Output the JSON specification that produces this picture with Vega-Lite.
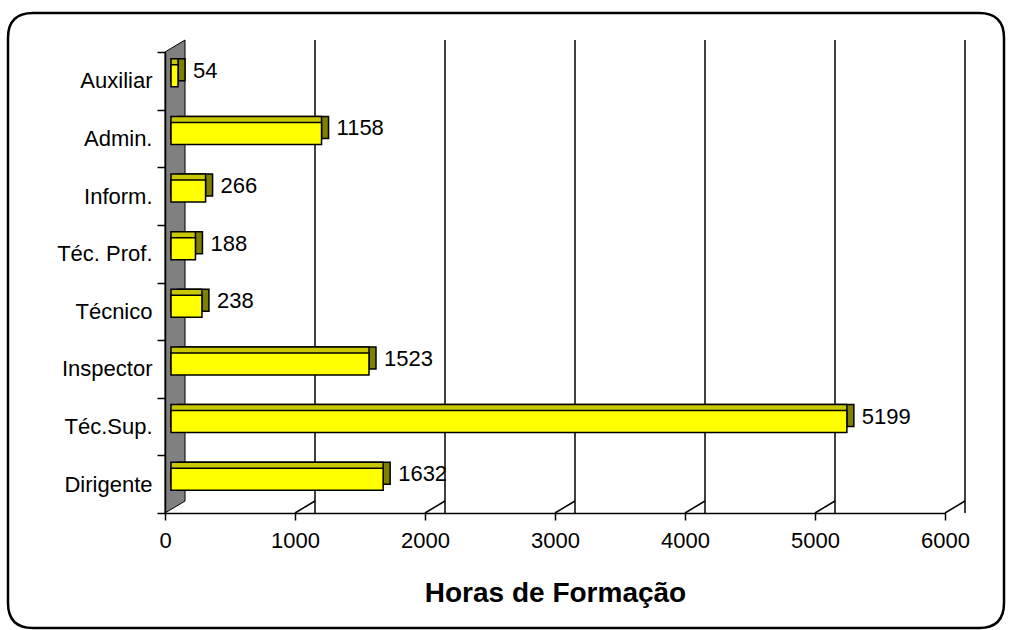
{
  "$schema": "https://vega.github.io/schema/vega-lite/v6.json",
  "width": 780,
  "height": 461,
  "autosize": "none",
  "padding": {"left": 165, "top": 52, "right": 66, "bottom": 117},
  "background": "white",
  "config": {"view": {"stroke": null}, "font": "Liberation Sans"},
  "datasets": {
    "bars": [
      {"cat": "Auxiliar", "horas": 54},
      {"cat": "Admin.", "horas": 1158},
      {"cat": "Inform.", "horas": 266},
      {"cat": "Téc. Prof.", "horas": 188},
      {"cat": "Técnico", "horas": 238},
      {"cat": "Inspector", "horas": 1523},
      {"cat": "Téc.Sup.", "horas": 5199},
      {"cat": "Dirigente", "horas": 1632}
    ],
    "grid": [{"g": 1000}, {"g": 2000}, {"g": 3000}, {"g": 4000}, {"g": 5000}, {"g": 6000}],
    "one": [{"g": 0}]
  },
  "encoding": {
    "y": {
      "field": "cat", "type": "nominal",
      "sort": ["Auxiliar", "Admin.", "Inform.", "Téc. Prof.", "Técnico", "Inspector", "Téc.Sup.", "Dirigente"],
      "scale": {"domain": ["Auxiliar", "Admin.", "Inform.", "Téc. Prof.", "Técnico", "Inspector", "Téc.Sup.", "Dirigente"], "paddingInner": 0, "paddingOuter": 0},
      "axis": {
        "title": null, "domainColor": "black", "domainWidth": 1.5, "tickColor": "black", "tickWidth": 1.5,
        "tickSize": 8, "tickBand": "extent", "labelFontSize": 22, "labelColor": "black", "labelPadding": 5,
        "labelFont": "Liberation Sans", "grid": false, "zindex": 1
      }
    },
    "x": {"field": "horas", "type": "quantitative", "scale": {"domain": [0, 6000]},
      "axis": {"title": "Horas de Formação", "titleFontSize": 28, "titleFont": "Liberation Sans", "titleFontWeight": "bold", "titleColor": "black", "titlePadding": 28,
        "values": [0, 1000, 2000, 3000, 4000, 5000, 6000], "format": "d", "domainColor": "black", "domainWidth": 1.5,
        "tickColor": "black", "tickWidth": 1.5, "tickSize": 7, "labelFontSize": 22, "labelColor": "black", "labelPadding": 10,
        "labelFont": "Liberation Sans", "grid": false, "labelFlush": false, "zindex": 1}}
  },
  "layer": [
    {
      "data": {"name": "one"},
      "mark": {"type": "point", "filled": false, "stroke": "black", "strokeWidth": 2.5, "opacity": 1, "strokeOpacity": 1,
        "shape": "M -0.946 -0.615 L 0.946 -0.615 Q 0.996 -0.615 0.996 -0.565 L 0.996 0.565 Q 0.996 0.615 0.946 0.615 L -0.946 0.615 Q -0.996 0.615 -0.996 0.565 L -0.996 -0.565 Q -0.996 -0.615 -0.946 -0.615 Z",
        "size": 1000000, "xOffset": 341, "yOffset": -48.4},
      "encoding": {
        "x": {"field": "g", "type": "quantitative"},
        "y": {"datum": "Inspector", "type": "nominal"}
      }
    },
    {
      "data": {"name": "one"},
      "mark": {"type": "point", "filled": true, "fill": "#808080", "stroke": "black", "strokeWidth": 1, "opacity": 1, "fillOpacity": 1,
        "shape": "M -0.0423 1 L 0.0423 0.9493 L 0.0423 -1 L -0.0423 -0.9493 Z", "size": 223729, "xOffset": 10, "yOffset": -92.4},
      "encoding": {
        "x": {"field": "g", "type": "quantitative"},
        "y": {"datum": "Inspector", "type": "nominal"}
      }
    },
    {
      "data": {"name": "grid"},
      "mark": {"type": "rule", "stroke": "black", "strokeWidth": 1.5, "xOffset": 20, "yOffset": -12, "y2Offset": -12},
      "encoding": {
        "x": {"field": "g", "type": "quantitative"},
        "y": null
      }
    },
    {
      "data": {"name": "grid"},
      "mark": {"type": "point", "filled": false, "stroke": "black", "strokeWidth": 1.5, "opacity": 1, "shape": "M 0 0 L 1 -0.6", "size": 1600, "yOffset": 28.8},
      "encoding": {
        "x": {"field": "g", "type": "quantitative"},
        "y": {"datum": "Dirigente", "type": "nominal"}
      }
    },
    {
      "data": {"name": "bars"},
      "mark": {"type": "bar", "fill": "#7f7f00", "stroke": "black", "strokeWidth": 1.5, "height": 22, "xOffset": 13, "x2Offset": 13, "yOffset": -11}
    },
    {
      "data": {"name": "bars"},
      "mark": {"type": "bar", "fill": "#c8c800", "stroke": "black", "strokeWidth": 1.5, "height": 22, "xOffset": 6, "x2Offset": 13, "yOffset": -11}
    },
    {
      "data": {"name": "bars"},
      "mark": {"type": "bar", "fill": "#ffff00", "stroke": "black", "strokeWidth": 1.5, "height": 22, "xOffset": 6, "x2Offset": 6, "yOffset": -5}
    },
    {
      "data": {"name": "bars"},
      "mark": {"type": "text", "align": "left", "baseline": "middle", "fontSize": 22, "font": "Liberation Sans", "fill": "black", "xOffset": 21, "yOffset": -10},
      "encoding": {"text": {"field": "horas", "type": "quantitative"}}
    }
  ]
}
